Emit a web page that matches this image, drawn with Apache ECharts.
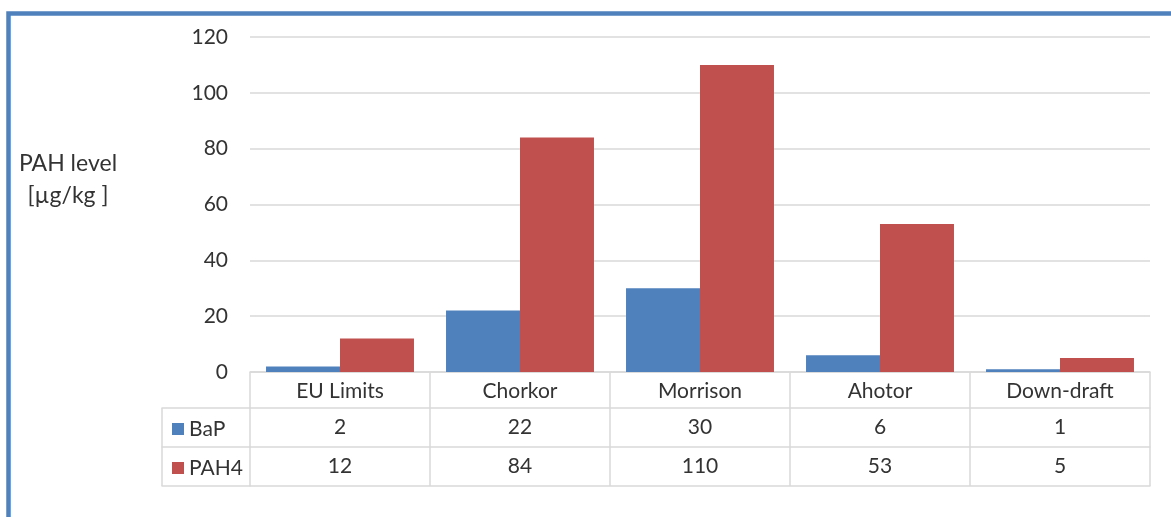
<!DOCTYPE html>
<html>
<head>
<meta charset="utf-8">
<script src="https://cdn.jsdelivr.net/npm/echarts@6/dist/echarts.min.js"></script>
<style>
html,body{margin:0;padding:0;background:#fff;}
#chart{width:1171px;height:517px;}
</style>
</head>
<body>
<div id="chart"></div>
<script>
const categories = ['EU Limits', 'Chorkor', 'Morrison', 'Ahotor', 'Down-draft'];
const seriesNames = ['BaP', 'PAH4'];
const bapValues = [2, 22, 30, 6, 1];
const pah4Values = [12, 84, 110, 53, 5];
const yMin = 0, yMax = 120, yInterval = 20;
const yTitle = 'PAH level\n[µg/kg ]';

const FONT = 'Lato';
const FS = 21;
const TXT = '#333333';
const BORDER = '#d9d9d9';
const BLUE = '#4f81bd';
const RED = '#c0504d';

const chart = echarts.init(document.getElementById('chart'), null, {renderer: 'canvas'});

function tableAxis(data, offset, tickLen, showLabel, gridIndex) {
  return {
    type: 'category',
    gridIndex: gridIndex || 0,
    position: 'bottom',
    offset: offset,
    data: data,
    boundaryGap: true,
    axisLine: {show: true, onZero: false, lineStyle: {color: BORDER, width: 1.5}},
    axisTick: {show: tickLen > 0, length: tickLen, lineStyle: {color: BORDER, width: 1.5}},
    axisLabel: {show: showLabel, interval: 0, margin: 9, color: TXT, fontFamily: FONT, fontSize: FS, lineHeight: 21},
    splitLine: {show: false}
  };
}

const option = {
  animation: false,
  backgroundColor: '#fff',
  graphic: [
    {type: 'rect', shape: {x: 8.5, y: 13.5, width: 1300, height: 700},
     style: {fill: 'none', stroke: BLUE, lineWidth: 4.5}, z: 100},
    {type: 'text', x: 68, y: 148,
     style: {text: yTitle, textAlign: 'center', fill: TXT, font: '23px ' + FONT, lineHeight: 32}}
  ],
  legend: {
    orient: 'vertical',
    left: 172,
    top: 418,
    padding: 0,
    itemWidth: 12,
    itemHeight: 12,
    itemGap: 17,
    icon: 'rect',
    textStyle: {color: TXT, fontFamily: FONT, fontSize: FS, lineHeight: 22, padding: [0, 0, 0, 0]},
    data: seriesNames
  },
  grid: [
    {left: 250, right: 21, top: 37, bottom: 145},
    {left: 162, width: 88, top: 37, bottom: 145}
  ],
  xAxis: [
    tableAxis(categories, 0, 36, true, 0),
    tableAxis(bapValues.map(String), 36, 39, true, 0),
    tableAxis(pah4Values.map(String), 75, 39, true, 0),
    tableAxis([''], 114, 0, false, 0),
    tableAxis([''], 36, 78, false, 1),
    tableAxis([''], 75, 0, false, 1),
    tableAxis([''], 114, 0, false, 1)
  ],
  yAxis: [
    {
      type: 'value', gridIndex: 0, min: yMin, max: yMax, interval: yInterval,
      axisLine: {show: false}, axisTick: {show: false},
      axisLabel: {color: TXT, fontFamily: FONT, fontSize: FS, margin: 22},
      splitLine: {lineStyle: {color: BORDER, width: 1.5}}
    },
    {type: 'value', gridIndex: 1, min: 0, max: 1, show: false, splitLine: {show: false}}
  ],
  series: [
    {name: seriesNames[0], type: 'bar', xAxisIndex: 0, yAxisIndex: 0, data: bapValues,
     itemStyle: {color: BLUE}, barGap: '0%', barCategoryGap: '17.8%'},
    {name: seriesNames[1], type: 'bar', xAxisIndex: 0, yAxisIndex: 0, data: pah4Values,
     itemStyle: {color: RED}, barGap: '0%', barCategoryGap: '17.8%'}
  ]
};
chart.setOption(option);
</script>
</body>
</html>
